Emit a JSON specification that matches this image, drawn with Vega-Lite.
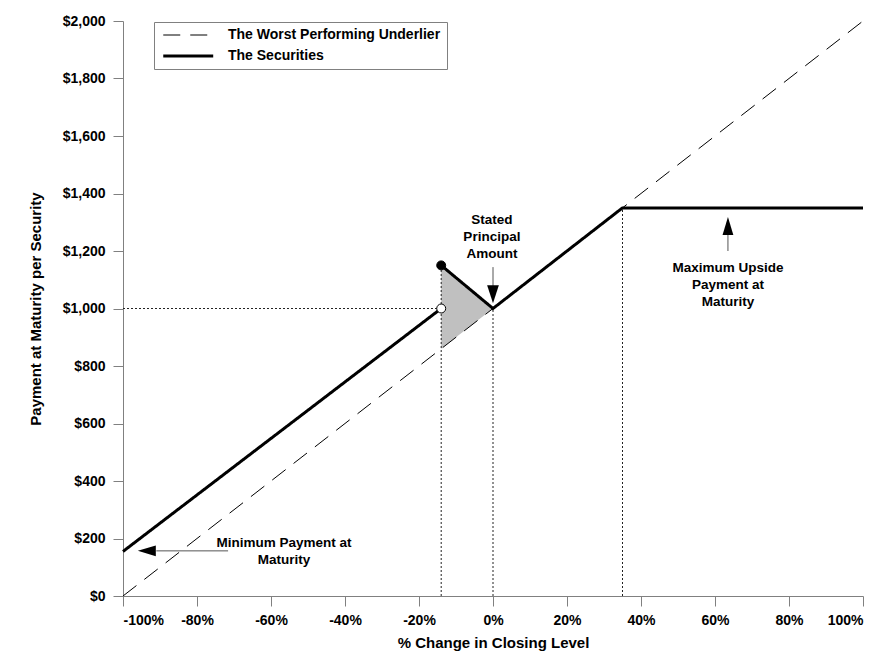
{
  "$schema": "https://vega.github.io/schema/vega-lite/v6.json",
  "width": 740,
  "height": 575,
  "autosize": {"type": "none"},
  "padding": {"left": 123, "top": 21, "right": 17, "bottom": 71},
  "background": "white",
  "config": {
    "view": {"stroke": null},
    "font": "Liberation Sans",
    "axis": {
      "grid": false,
      "domainColor": "#808080",
      "tickColor": "#808080",
      "tickSize": 10,
      "labelFont": "Liberation Sans",
      "labelFontWeight": "bold",
      "labelFontSize": 14,
      "labelColor": "black",
      "titleFont": "Liberation Sans",
      "titleFontWeight": "bold",
      "titleFontSize": 15,
      "titleColor": "black"
    },
    "legend": {
      "orient": "none",
      "legendX": 31,
      "legendY": 1,
      "padding": 6,
      "strokeColor": "#808080",
      "fillColor": "white",
      "symbolType": "M-0.76,0H7.24",
      "symbolSize": 156,
      "symbolStrokeColor": "black",
      "symbolFillColor": "transparent",
      "labelFont": "Liberation Sans",
      "labelFontWeight": "bold",
      "labelFontSize": 14,
      "labelColor": "black",
      "labelOffset": 52,
      "rowPadding": 6,
      "labelLimit": 400
    }
  },
  "layer": [
    {
      "data": {"values": [
        {"x": -14, "lo": 860, "hi": 1150},
        {"x": 0, "lo": 1000, "hi": 1000}
      ]},
      "mark": {"type": "area", "fill": "#c0c0c0", "opacity": 1},
      "encoding": {
        "x": {"field": "x", "type": "quantitative",
              "scale": {"domain": [-100, 100], "nice": false, "zero": false},
              "axis": {"values": [-100, -80, -60, -40, -20, 0, 20, 40, 60, 80, 100],
                       "labelExpr": "datum.value + '%'", "labelPadding": 7,
                       "title": "% Change in Closing Level", "titlePadding": 8}},
        "y": {"field": "lo", "type": "quantitative",
              "scale": {"domain": [0, 2000], "nice": false},
              "axis": {"values": [0, 200, 400, 600, 800, 1000, 1200, 1400, 1600, 1800, 2000],
                       "format": "$,d", "labelPadding": 8,
                       "title": "Payment at Maturity per Security", "titlePadding": 19}},
        "y2": {"field": "hi"}
      }
    },
    {
      "data": {"values": [
        {"x": -100, "y": 1000, "x2": -14, "y2": 1000},
        {"x": -14, "y": 0, "x2": -14, "y2": 1150},
        {"x": 0, "y": 0, "x2": 0, "y2": 1000},
        {"x": 35, "y": 0, "x2": 35, "y2": 1350}
      ]},
      "mark": {"type": "rule", "strokeDash": [2, 2], "strokeWidth": 1, "color": "#222222"},
      "encoding": {
        "x": {"field": "x", "type": "quantitative"},
        "y": {"field": "y", "type": "quantitative"},
        "x2": {"field": "x2"},
        "y2": {"field": "y2"}
      }
    },
    {
      "data": {"values": [
        {"x": -100, "y": 0, "series": "The Worst Performing Underlier", "seg": "u"},
        {"x": 100, "y": 2000, "series": "The Worst Performing Underlier", "seg": "u"},
        {"x": -100, "y": 155, "series": "The Securities", "seg": "a"},
        {"x": -14, "y": 1000, "series": "The Securities", "seg": "a"},
        {"x": -14, "y": 1150, "series": "The Securities", "seg": "b"},
        {"x": 0, "y": 1000, "series": "The Securities", "seg": "b"},
        {"x": 35, "y": 1350, "series": "The Securities", "seg": "b"},
        {"x": 100, "y": 1350, "series": "The Securities", "seg": "b"}
      ]},
      "mark": {"type": "line", "color": "black", "strokeCap": "butt"},
      "encoding": {
        "x": {"field": "x", "type": "quantitative"},
        "y": {"field": "y", "type": "quantitative"},
        "detail": {"field": "seg"},
        "strokeDash": {"field": "series", "type": "nominal",
                       "scale": {"domain": ["The Worst Performing Underlier", "The Securities"],
                                 "range": [[17, 10], [1, 0]]},
                       "legend": {"title": null}},
        "strokeWidth": {"field": "series", "type": "nominal",
                        "scale": {"domain": ["The Worst Performing Underlier", "The Securities"],
                                  "range": [1, 3]},
                        "legend": {"title": null}}
      }
    },
    {
      "data": {"values": [
        {"x": -14, "y": 1150, "kind": "filled"},
        {"x": -14, "y": 1000, "kind": "open"}
      ]},
      "mark": {"type": "point", "filled": true, "size": 80, "stroke": "black", "strokeWidth": 1, "opacity": 1},
      "encoding": {
        "x": {"field": "x", "type": "quantitative"},
        "y": {"field": "y", "type": "quantitative"},
        "fill": {"field": "kind", "type": "nominal",
                 "scale": {"domain": ["filled", "open"], "range": ["black", "white"]},
                 "legend": null}
      }
    },
    {
      "data": {"values": [
        {"x": 0, "y": 1144, "x2": 0, "y2": 1060},
        {"x": 63.5, "y": 1200, "x2": 63.5, "y2": 1270},
        {"x": -71.6, "y": 157, "x2": -91, "y2": 157}
      ]},
      "mark": {"type": "rule", "strokeWidth": 1, "color": "#555555"},
      "encoding": {
        "x": {"field": "x", "type": "quantitative"},
        "y": {"field": "y", "type": "quantitative"},
        "x2": {"field": "x2"},
        "y2": {"field": "y2"}
      }
    },
    {
      "data": {"values": [
        {"x": 0, "y": 1018, "dir": "down"},
        {"x": 63.5, "y": 1318, "dir": "up"},
        {"x": -96, "y": 157, "dir": "left"}
      ]},
      "mark": {"type": "point", "filled": true, "size": 324, "color": "black", "opacity": 1},
      "encoding": {
        "x": {"field": "x", "type": "quantitative"},
        "y": {"field": "y", "type": "quantitative"},
        "shape": {"field": "dir", "type": "nominal",
                  "scale": {"domain": ["down", "up", "left"],
                            "range": ["M0,0L-0.65,-2L0.65,-2Z", "M0,0L-0.6,2L0.6,2Z", "M0,0L2,-0.6L2,0.6Z"]},
                  "legend": null}
      }
    },
    {
      "data": {"values": [
        {"x": -0.3, "y": 1308, "label": "Stated\nPrincipal\nAmount"},
        {"x": 63.5, "y": 1141, "label": "Maximum Upside\nPayment at\nMaturity"},
        {"x": -56.5, "y": 184, "label": "Minimum Payment at\nMaturity"}
      ]},
      "mark": {"type": "text", "font": "Liberation Sans", "fontWeight": "bold", "fontSize": 13.5,
               "lineBreak": "\n", "lineHeight": 17, "align": "center", "baseline": "middle", "color": "black"},
      "encoding": {
        "x": {"field": "x", "type": "quantitative"},
        "y": {"field": "y", "type": "quantitative"},
        "text": {"field": "label"}
      }
    }
  ]
}
